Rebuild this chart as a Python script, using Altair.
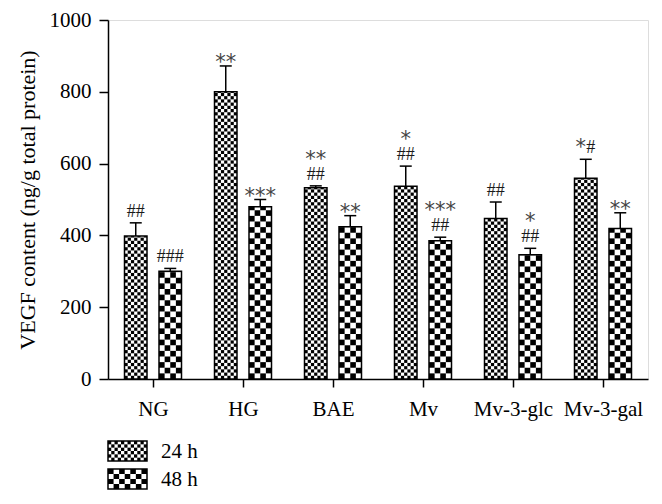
import altair as alt
import pandas as pd

# ---------------- data ----------------
categories = ["NG", "HG", "BAE", "Mv", "Mv-3-glc", "Mv-3-gal"]
series = ["24 h", "48 h"]
vals_24 = [398, 800, 533, 537, 447, 559]
err_24 = [37, 72, 5, 56, 46, 53]
vals_48 = [300, 480, 424, 385, 346, 419]
err_48 = [8, 20, 31, 10, 18, 44]
sig_24 = ["##", "**", "**\n##", "*\n##", "##", "*#"]
sig_48 = ["###", "***", "**", "***\n##", "*\n##", "**"]
y_ticks = [0, 200, 400, 600, 800, 1000]

# ---------------- layout ----------------
W, H = 540, 359
BAND_PX = W / len(categories)
BAR_PX = 22.5
GAP_PX = 6
YMAX = 1000
FONT = "Liberation Serif"
STAR_FONT = "DejaVu Sans"

ncols = {"24 h": 7, "48 h": 4}

bars = []
cells = []
pieces = []
for i, cat in enumerate(categories):
    for s, vals, errs, sigs in (("24 h", vals_24, err_24, sig_24),
                                ("48 h", vals_48, err_48, sig_48)):
        center = i + 0.5
        if s == "24 h":
            x0 = center - (GAP_PX + BAR_PX) / BAND_PX
        else:
            x0 = center + GAP_PX / BAND_PX
        x1 = x0 + BAR_PX / BAND_PX
        xc = (x0 + x1) / 2
        v, e = vals[i], errs[i]
        bars.append(dict(cat=cat, series=s, x0=x0, x1=x1, xc=xc,
                         cap0=xc - 6 / BAND_PX, cap1=xc + 6 / BAND_PX,
                         val=v, top=v + e))
        # significance marks, split into star / hash pieces
        lab = sigs[i]
        if "\n" in lab:
            up, low = lab.split("\n")
            pieces.append(dict(xc=xc, top=v + e, txt=up, kind="star_up"))
            pieces.append(dict(xc=xc, top=v + e, txt=low, kind="hash"))
        elif set(lab) == {"#"}:
            pieces.append(dict(xc=xc, top=v + e, txt=lab, kind="hash"))
        elif set(lab) == {"*"}:
            pieces.append(dict(xc=xc, top=v + e, txt=lab, kind="star"))
        else:
            st = "".join(ch for ch in lab if ch == "*")
            hs = "".join(ch for ch in lab if ch == "#")
            pieces.append(dict(xc=xc, top=v + e, txt=st, kind="star_in"))
            pieces.append(dict(xc=xc, top=v + e, txt=hs, kind="hash_in"))
        # checker pattern cells
        n = ncols[s]
        cw = (x1 - x0) / n
        cell_px = BAR_PX / n
        rowh = cell_px * YMAX / H
        r = 0
        while r * rowh < v:
            y0 = r * rowh
            y1 = min((r + 1) * rowh, v)
            for c in range(n):
                if (r + c) % 2 == 0:
                    cells.append(dict(x0=x0 + c * cw, x1=x0 + (c + 1) * cw,
                                      y0=y0, y1=y1))
            r += 1

bars_df = pd.DataFrame(bars)
cells_df = pd.DataFrame(cells)
pieces_df = pd.DataFrame(pieces)

xscale = alt.Scale(domain=[0, len(categories)], nice=False, zero=False)
yscale = alt.Scale(domain=[0, YMAX], nice=False)

label_expr = "[" + ",".join("'%s'" % c for c in categories) + "][floor(datum.value)]"

xaxis = alt.Axis(values=[i + 0.5 for i in range(len(categories))],
                 labelExpr=label_expr, title=None, grid=False,
                 domainColor="black", domainWidth=1.5, tickColor="black",
                 tickWidth=1.5, tickSize=8, labelPadding=11,
                 labelFont=FONT, labelFontSize=21, labelColor="black",
                 labelBaseline="top")
yaxis = alt.Axis(values=y_ticks, format="d",
                 title="VEGF content (ng/g total protein)",
                 grid=False, domainColor="black", domainWidth=1.5,
                 tickColor="black", tickWidth=1.5, tickSize=9, labelPadding=8,
                 labelFont=FONT, labelFontSize=21, labelColor="black",
                 titleFont=FONT, titleFontSize=22, titleFontWeight="normal",
                 titleColor="black", titlePadding=10)

base = alt.Chart(bars_df)

bg = base.mark_rect(fill="white").encode(
    x=alt.X("x0:Q", scale=xscale, axis=xaxis),
    x2="x1:Q",
    y=alt.Y("val:Q", scale=yscale, axis=yaxis),
    y2=alt.datum(0),
)

pattern = alt.Chart(cells_df).mark_rect(fill="black").encode(
    x=alt.X("x0:Q", scale=xscale), x2="x1:Q",
    y=alt.Y("y0:Q", scale=yscale), y2="y1:Q",
)

outline = base.mark_rect(fillOpacity=0, stroke="black", strokeWidth=1.5).encode(
    x=alt.X("x0:Q", scale=xscale), x2="x1:Q",
    y=alt.Y("val:Q", scale=yscale), y2=alt.datum(0),
)

err_line = base.mark_rule(color="black", strokeWidth=1.5).encode(
    x=alt.X("xc:Q", scale=xscale),
    y=alt.Y("val:Q", scale=yscale), y2="top:Q",
)
err_cap = base.mark_rule(color="black", strokeWidth=1.5).encode(
    x=alt.X("cap0:Q", scale=xscale), x2="cap1:Q",
    y=alt.Y("top:Q", scale=yscale),
)


def sig_layer(kind, font, size, color, dx, dy):
    return alt.Chart(pieces_df).transform_filter(
        alt.datum.kind == kind
    ).mark_text(baseline="alphabetic", align="center", dx=dx, dy=dy,
                font=font, fontSize=size, color=color).encode(
        x=alt.X("xc:Q", scale=xscale),
        y=alt.Y("top:Q", scale=yscale),
        text="txt:N",
    )


STAR_COLOR = "#444444"
HASH_COLOR = "#1a1a1a"
sig_hash = sig_layer("hash", FONT, 18, HASH_COLOR, 0, -6)
sig_star = sig_layer("star", STAR_FONT, 21, STAR_COLOR, 0, 3)
sig_star_up = sig_layer("star_up", STAR_FONT, 21, STAR_COLOR, 0, -20)
sig_star_in = sig_layer("star_in", STAR_FONT, 21, STAR_COLOR, -5, -5)
sig_hash_in = sig_layer("hash_in", FONT, 18, HASH_COLOR, 5, -6)

# ---------------- legend (below the plot) ----------------
leg_swatch = {"24 h": (421, 12, 6), "48 h": (449, 7, 4)}
leg_rows = []
leg_cells = []
SW_W, SW_H = 39, 20
for s in series:
    ytop, nc, nr = leg_swatch[s]
    leg_rows.append(dict(series=s, x0=0, x1=SW_W, y0=ytop, y1=ytop + SW_H,
                         tx=53, ty=ytop + SW_H / 2 + 1))
    cw = SW_W / nc
    ch = SW_H / nr
    for r in range(nr):
        for c in range(nc):
            if (r + c) % 2 == 0:
                leg_cells.append(dict(x0=c * cw, x1=(c + 1) * cw,
                                      y0=ytop + r * ch, y1=ytop + (r + 1) * ch))
leg_df = pd.DataFrame(leg_rows)
leg_cells_df = pd.DataFrame(leg_cells)

leg_bg = alt.Chart(leg_df).mark_rect(fill="white").encode(
    x=alt.X("x0:Q", scale=None), x2="x1:Q",
    y=alt.Y("y0:Q", scale=None), y2="y1:Q",
)
leg_pat = alt.Chart(leg_cells_df).mark_rect(fill="black").encode(
    x=alt.X("x0:Q", scale=None), x2="x1:Q",
    y=alt.Y("y0:Q", scale=None), y2="y1:Q",
)
leg_out = alt.Chart(leg_df).mark_rect(fillOpacity=0, stroke="black",
                                      strokeWidth=1.5).encode(
    x=alt.X("x0:Q", scale=None), x2="x1:Q",
    y=alt.Y("y0:Q", scale=None), y2="y1:Q",
)
leg_txt = alt.Chart(leg_df).mark_text(align="left", baseline="middle",
                                      font=FONT, fontSize=21,
                                      color="black").encode(
    x=alt.X("tx:Q", scale=None),
    y=alt.Y("ty:Q", scale=None),
    text="series:N",
)

chart = alt.layer(bg, pattern, outline, err_line, err_cap,
                  sig_hash, sig_star, sig_star_up, sig_star_in, sig_hash_in,
                  leg_bg, leg_pat, leg_out, leg_txt).properties(
    width=W, height=H,
    autosize=alt.AutoSizeParams(type="none"),
    padding={"left": 100, "top": 12, "right": 6, "bottom": 117},
).configure_view(stroke=None).configure(background="white")

chart.save("out.html", embed_options={"renderer": "svg", "actions": False})
